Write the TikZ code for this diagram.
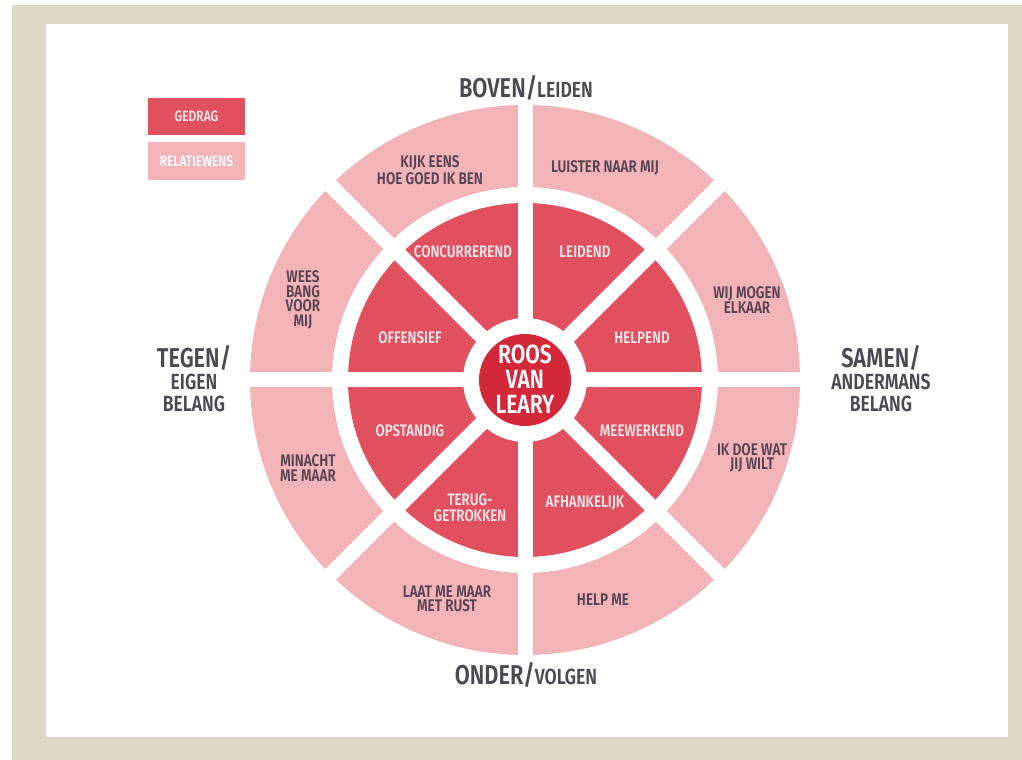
\documentclass[tikz,border=0pt]{standalone}
\usepackage{fontspec}
\setmainfont{Fira Sans}[FakeStretch=0.8, BoldFont={Fira Sans SemiBold}]
\definecolor{lijst}{HTML}{DDD9C8}
\definecolor{gedrag}{HTML}{E0505F}
\definecolor{wens}{HTML}{F2B3B9}
\definecolor{kern}{HTML}{D3283A}
\definecolor{lichttekst}{HTML}{FCE4E6}
\definecolor{donkertekst}{HTML}{574350}
\definecolor{astekst}{HTML}{4B4A52}
\tikzset{
	gedragtxt/.style={text=lichttekst, align=center, font=\fontsize{9.5}{9}\selectfont\bfseries},
	wenstxt/.style={text=donkertekst, align=center, font=\fontsize{9.6}{8.2}\selectfont\bfseries},
	astxt/.style={text=astekst, align=center, font=\fontsize{12.5}{12.5}\selectfont\bfseries},
	spaak/.style={white, line width=0.3cm},
	legendbox/.style={minimum width=1.95cm, minimum height=0.75cm, inner sep=0pt, font=\fontsize{8.5}{8.5}\selectfont\bfseries},
}
\begin{document}
\begin{tikzpicture}[x=0.02cm, y=0.02cm]
	\useasboundingbox (0,0) rectangle (1022,760);
	\fill[white] (0,0) rectangle (1022,760);
	\fill[lijst] (12,0) rectangle (1022,755);
	\fill[white] (46,23) rectangle (1008,736);
	% legenda
	\node[legendbox, fill=gedrag, text=lichttekst] (gedrag) at (196.5,643.5) {GEDRAG};
	\node[legendbox, fill=wens, text=white] (wens) at (196.5,599) {RELATIEWENS};
	\begin{scope}[shift={(525,380)}]
		% ringen
		\fill[wens, even odd rule] (0,0) circle (275) (0,0) circle (193);
		\fill[gedrag, even odd rule] (0,0) circle (177) (0,0) circle (62);
		\foreach \a in {0,45,...,315}
			\draw[spaak] (\a:52) -- (\a:285);
		\fill[kern] (0,0) circle (46);
		\node[text=white, align=center, font=\fontsize{15}{14.2}\selectfont\bfseries] (roos) at (0,1) {ROOS\\VAN\\LEARY};
		% gedrag
		\node[gedragtxt] (concurrerend) at (-62,128) {CONCURREREND};
		\node[gedragtxt] (leidend) at (60,128) {LEIDEND};
		\node[gedragtxt] (helpend) at (117,42) {HELPEND};
		\node[gedragtxt] (meewerkend) at (117,-51) {MEEWERKEND};
		\node[gedragtxt] (afhankelijk) at (60,-123) {AFHANKELIJK};
		\node[gedragtxt] (teruggetrokken) at (-55,-128) {TERUG-\\GETROKKEN};
		\node[gedragtxt] (opstandig) at (-115,-51) {OPSTANDIG};
		\node[gedragtxt] (offensief) at (-115,42) {OFFENSIEF};
		% relatiewens
		\node[wenstxt] (kijk) at (-95,210) {KIJK EENS\\HOE GOED IK BEN};
		\node[wenstxt] (luister) at (80,212) {LUISTER NAAR MIJ};
		\node[wenstxt] (mogen) at (222,80) {WIJ MOGEN\\ELKAAR};
		\node[wenstxt] (doe) at (227,-78) {IK DOE WAT\\JIJ WILT};
		\node[wenstxt] (help) at (78,-220) {HELP ME};
		\node[wenstxt] (rust) at (-78,-219) {LAAT ME MAAR\\MET RUST};
		\node[wenstxt] (minacht) at (-217,-88) {MINACHT\\ME MAAR};
		\node[wenstxt] (bang) at (-222,80) {WEES\\BANG\\VOOR\\MIJ};
	\end{scope}
	% assen
	\node[astxt] (boven) at (526,672) {{\fontsize{15.5}{15}\selectfont BOVEN/}LEIDEN};
	\node[astxt] (onder) at (526,85) {{\fontsize{15.5}{15}\selectfont ONDER/}VOLGEN};
	\node[astxt] (tegen) at (194,381) {{\fontsize{15.5}{15}\selectfont TEGEN/}\\EIGEN\\BELANG};
	\node[astxt] (samen) at (881,381) {{\fontsize{15.5}{15}\selectfont SAMEN/}\\ANDERMANS\\BELANG};
\end{tikzpicture}
\end{document}
